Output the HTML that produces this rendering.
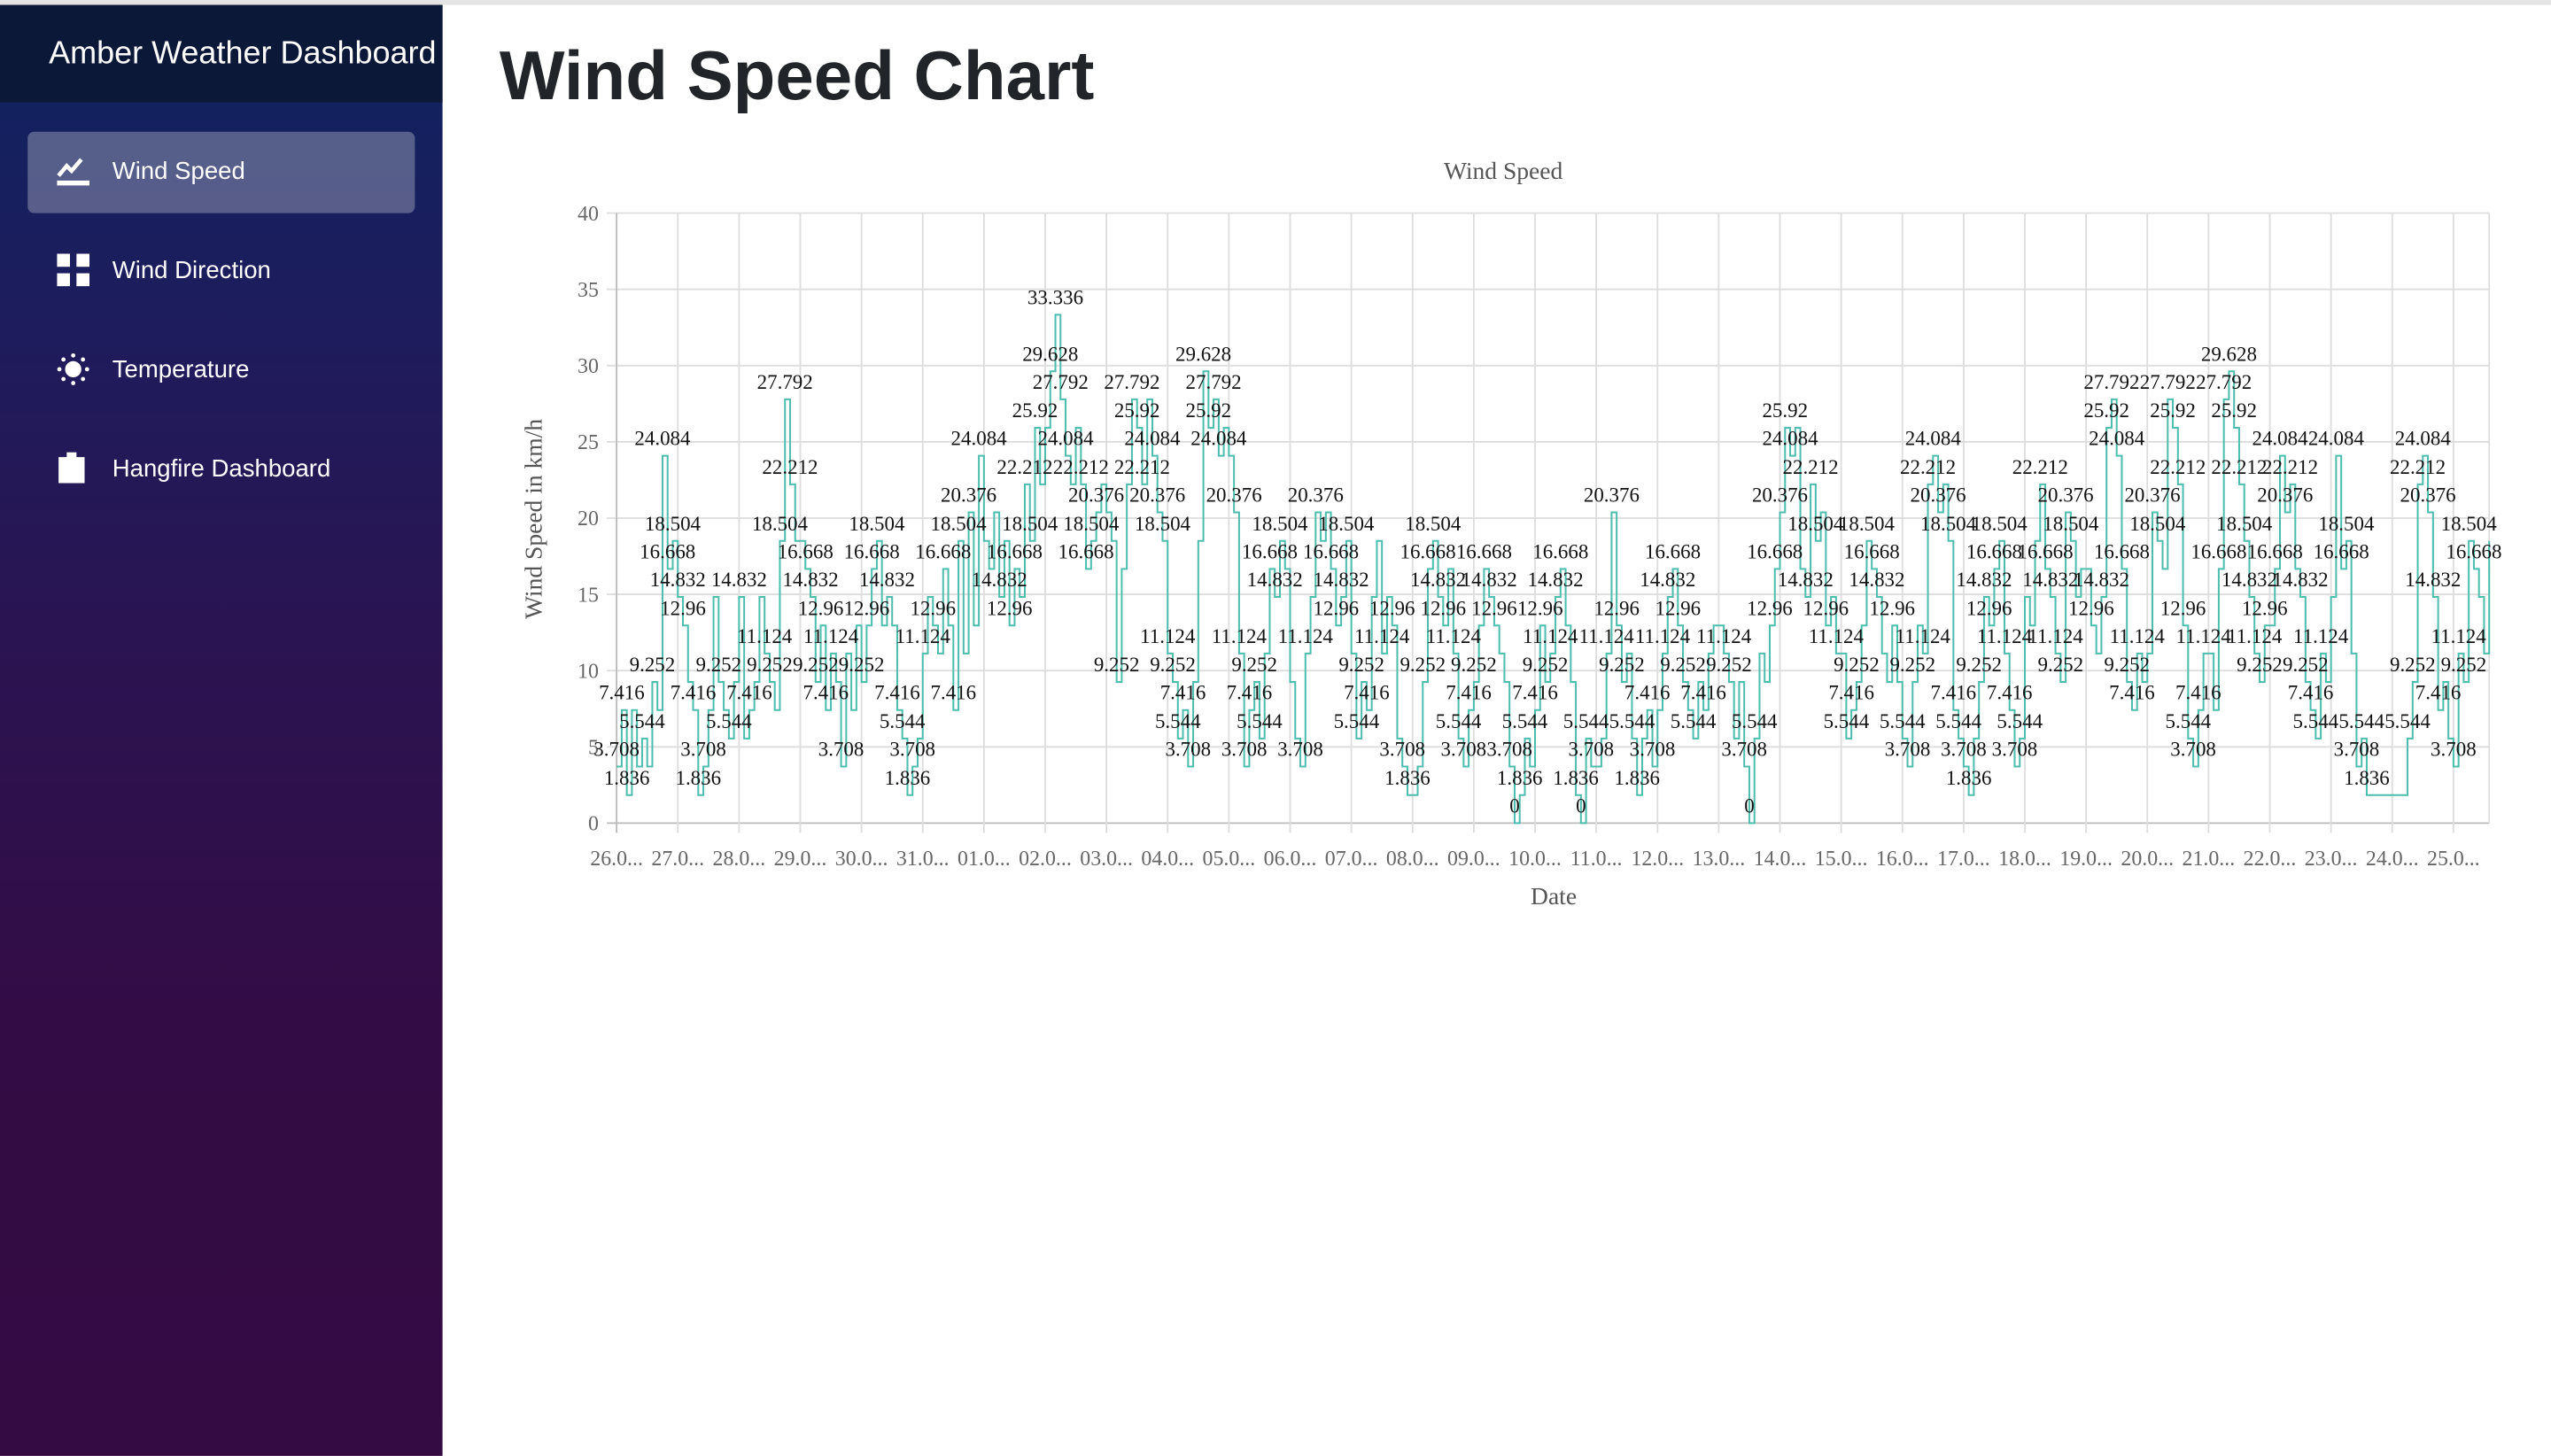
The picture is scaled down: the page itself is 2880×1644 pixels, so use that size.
<!DOCTYPE html>
<html><head><meta charset="utf-8">
<style>
html,body{margin:0;padding:0;width:2880px;height:1644px;overflow:hidden;background:#fff;}
#wrap{position:absolute;left:0;top:0;width:1568px;height:895px;transform:scale(1.836735);transform-origin:0 0;font-family:"Liberation Sans",sans-serif;}
#topstrip{position:absolute;left:0;top:0;width:1568px;height:3px;background:#e4e4e4;}
#sidebar{position:absolute;left:0;top:3px;width:272px;height:892px;background:linear-gradient(180deg,#13215f 60px,#1e1c5c 200px,#2a1452 380px,#330c45 620px,#350b43 892px);}
#brand{position:absolute;left:0;top:0;width:272px;height:60px;background:#0c1838;color:#fff;font-size:19.6px;line-height:60px;text-indent:30px;white-space:nowrap;}
.nav{position:absolute;left:17px;width:238px;height:50px;border-radius:4px;color:#fff;font-size:15px;}
.nav span.t{position:absolute;left:52px;top:16px;}
.nav .ic{position:absolute;left:18px;top:14px;width:20px;height:20px;}
.active{background:rgba(255,255,255,0.28);}
h1{position:absolute;left:307px;top:24px;margin:0;font-size:42.5px;font-weight:bold;color:#212529;}
svg text{font-family:"Liberation Serif",serif;}
</style></head><body>
<div id="wrap">
<div id="topstrip"></div>
<div id="sidebar">
 <div id="brand">Amber Weather Dashboard</div>
 <div class="nav active" style="top:78px">
  <svg class="ic" viewBox="0 0 20 20"><path d="M1 13 L6 7 L9 10 L15 3" stroke="#fff" stroke-width="2.5" fill="none"/><rect x="0" y="16" width="20" height="3" fill="#fff"/></svg>
  <span class="t">Wind Speed</span></div>
 <div class="nav" style="top:139px">
  <svg class="ic" viewBox="0 0 20 20"><rect x="0" y="0" width="8" height="8" fill="#fff"/><rect x="12" y="0" width="8" height="8" fill="#fff"/><rect x="0" y="12" width="8" height="8" fill="#fff"/><rect x="12" y="12" width="8" height="8" fill="#fff"/></svg>
  <span class="t">Wind Direction</span></div>
 <div class="nav" style="top:200px">
  <svg class="ic" viewBox="0 0 20 20"><circle cx="10" cy="10" r="5" fill="#fff"/><g fill="#fff"><circle cx="10" cy="1.5" r="1.3"/><circle cx="10" cy="18.5" r="1.3"/><circle cx="1.5" cy="10" r="1.3"/><circle cx="18.5" cy="10" r="1.3"/><circle cx="4" cy="4" r="1.3"/><circle cx="16" cy="4" r="1.3"/><circle cx="4" cy="16" r="1.3"/><circle cx="16" cy="16" r="1.3"/></g></svg>
  <span class="t">Temperature</span></div>
 <div class="nav" style="top:261px">
  <svg class="ic" viewBox="0 0 20 20"><rect x="1" y="3" width="16" height="16" fill="#fff"/><rect x="6" y="0" width="6" height="4" fill="#fff"/></svg>
  <span class="t">Hangfire Dashboard</span></div>
</div>
<h1>Wind Speed Chart</h1>
<svg id="chart" width="1568" height="895" style="position:absolute;left:0;top:0"></svg>
</div>
<script>
const levelValues=[0,1.836,3.708,5.544,7.416,9.252,11.124,12.96,14.832,16.668,18.504,20.376,22.212,24.084,25.92,27.792,29.628,31.464,33.336];
const dayLabels=["26.0...","27.0...","28.0...","29.0...","30.0...","31.0...","01.0...","02.0...","03.0...","04.0...","05.0...","06.0...","07.0...","08.0...","09.0...","10.0...","11.0...","12.0...","13.0...","14.0...","15.0...","16.0...","17.0...","18.0...","19.0...","20.0...","21.0...","22.0...","23.0...","24.0...","25.0..."];
const yTicks=[0,5,10,15,20,25,30,35,40];
const speedLevels=[
2,4,1,4,2,3,2,5,4,13,9,10,
8,7,5,4,1,2,4,8,5,4,3,5,
8,3,4,5,8,6,5,4,10,15,12,10,
10,9,8,5,7,4,6,5,2,6,4,7,
5,7,9,10,7,8,7,4,3,1,2,3,
6,8,7,6,9,7,4,10,6,11,7,13,
10,9,11,8,10,7,9,8,12,10,14,12,
14,16,18,15,13,12,14,12,9,10,11,12,
11,10,5,9,12,15,14,12,15,13,11,10,
6,5,3,4,2,5,10,16,14,15,13,14,
13,11,6,2,4,5,3,6,9,8,10,9,
5,3,2,6,8,11,10,11,9,7,8,10,
6,3,5,4,8,10,6,8,7,3,2,1,
1,2,5,9,10,8,7,9,6,3,2,4,
5,7,9,8,7,6,5,2,0,1,3,2,
4,7,5,6,8,9,7,5,1,0,3,2,
2,3,6,11,7,5,6,3,1,3,4,2,
4,6,8,9,7,5,4,3,5,4,6,7,
7,6,5,3,5,2,0,3,6,5,7,9,
11,14,13,14,9,8,12,10,11,7,8,6,
6,3,4,5,7,10,9,8,6,5,7,5,
3,2,5,7,6,12,13,11,12,10,4,3,
2,1,3,5,8,7,9,10,6,4,2,3,
8,7,10,12,9,8,6,5,11,10,8,9,
9,7,6,8,14,15,13,9,5,4,6,5,
6,11,10,9,15,14,12,7,3,2,4,6,
6,4,9,15,16,14,12,10,8,6,5,7,
7,9,13,11,12,9,8,5,4,3,6,5,
8,13,9,10,6,2,3,1,1,1,1,1,
1,1,1,3,5,12,13,11,8,4,5,3,
2,6,5,10,9,8,6,10];
const speeds=speedLevels.map(k=>levelValues[k]);
const pointsPerDay=12;

const NS="http://www.w3.org/2000/svg";
const svg=document.getElementById('chart');
const X0=379,X1=1530,Y0=506,Y1=131,YMAX=40;
const n=speeds.length;
function xPos(i){return X0+i*(X1-X0)/(n-1);}
function yPos(v){return Y0-(v/YMAX)*(Y0-Y1);}
function mk(tag,attrs,parent){const e=document.createElementNS(NS,tag);for(const k in attrs)e.setAttribute(k,attrs[k]);(parent||svg).appendChild(e);return e;}

const t=mk('text',{x:924,y:110,'text-anchor':'middle','font-size':15,fill:'#555'});t.textContent='Wind Speed';



yTicks.forEach(v=>{
 const y=yPos(v);
 const l=mk('line',{x1:X0-6,x2:X1,y1:y,y2:y,stroke:v===0?'#bbb':'#ddd','stroke-width':1});
 
 
 const tx=mk('text',{x:X0-11,y:y+4.5,'text-anchor':'end','font-size':13,fill:'#666'});tx.textContent=v;
 
 
});
dayLabels.forEach((d,j)=>{
 const x=xPos(j*pointsPerDay);
 const l=mk('line',{x1:x,x2:x,y1:Y1,y2:Y0+6,stroke:j===0?'#bbb':'#ddd','stroke-width':1});
 
 
 const tx=mk('text',{x:x,y:532,'text-anchor':'middle','font-size':13,fill:'#666'});tx.textContent=d;
 
 
});
const rb=mk('line',{x1:X1,x2:X1,y1:Y1,y2:Y0,stroke:'#ddd'});



const yt=mk('text',{x:0,y:0,'text-anchor':'middle','font-size':15,fill:'#555',transform:'translate(333,319) rotate(-90)'});yt.textContent='Wind Speed in km/h';


const xt=mk('text',{x:955,y:556,'text-anchor':'middle','font-size':15,fill:'#555'});xt.textContent='Date';



let d='';
speeds.forEach((v,i)=>{const x=xPos(i).toFixed(2),y=yPos(v).toFixed(2);d+=(i?'H'+x+'V'+y:'M'+x+' '+y);});
const line=mk('path',{d:d,fill:'none',stroke:'#4dbdae','stroke-width':1.1});



const boxes=[];
speeds.forEach((v,i)=>{
 const s=String(v);
 const w=s.length*5.2,h=12;
 const cx=xPos(i),cy=yPos(v)-11;
 const b={x:cx-w/2,y:cy-h/2,w:w,h:h};
 if(boxes.some(o=>b.x<o.x+o.w&&o.x<b.x+b.w&&b.y<o.y+o.h&&o.y<b.y+b.h))return;
 boxes.push(b);
 const tx=mk('text',{x:cx,y:cy+4.5,'text-anchor':'middle','font-size':12.5,fill:'#111'});tx.textContent=s;
 
 
});
</script>
</body></html>
